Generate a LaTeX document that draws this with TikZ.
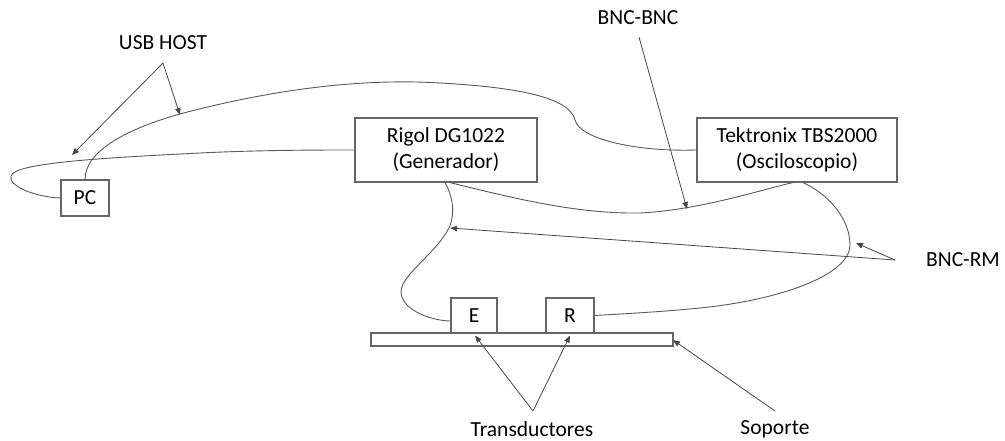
\documentclass[tikz,border=0pt]{standalone}
\usepackage{fontspec}
\setmainfont{Carlito}
\usetikzlibrary{arrows.meta}
\begin{document}
\begin{tikzpicture}[x=1pt,y=-1pt,
  box/.style={draw=black!60, line width=1.1pt, fill=white, inner sep=0pt, align=center,
    font=\fontsize{21.5}{26}\selectfont, text=black},
  lbl/.style={inner sep=0pt, font=\fontsize{21.5}{26}\selectfont, text=black},
  cable/.style={draw=black!65, line width=0.9pt},
  pointer/.style={draw=black!72, line width=0.8pt, -{Triangle[length=7pt,width=5.5pt]}}]
\useasboundingbox (0,0) rectangle (1005,441);

% boxes
\node[box, minimum width=48pt, minimum height=36pt] (PC) at (85,198) {PC};
\node[box, minimum width=182pt, minimum height=64pt] (rigol) at (446,150) {Rigol DG1022\\(Generador)};
\node[box, minimum width=200pt, minimum height=64pt] (tek) at (797,150) {Tektronix TBS2000\\(Osciloscopio)};
\node[box, minimum width=302pt, minimum height=13pt] (bar) at (522,339.5) {};
\node[box, minimum width=46pt, minimum height=35pt] (E) at (474,315.5) {E};
\node[box, minimum width=48pt, minimum height=35pt] (R) at (570,315.5) {R};

% labels
\node[lbl] (usb) at (163,43) {USB HOST};
\node[lbl] (bncbnc) at (638,18) {BNC-BNC};
\node[lbl] (bncrm) at (963,260) {BNC-RM};
\node[lbl] (trans) at (532,429) {Transductores};
\node[lbl] (sop) at (775,429) {Soporte};

% pointer origins
\coordinate (usbA) at (163,63);
\coordinate (bncA) at (639,37);
\coordinate (rmA) at (895,260);
\coordinate (trA) at (533,411);
\coordinate (soA) at (775,411);

% cables
\draw[cable] (PC.west) .. controls (35,197) and (8,186) .. (11,176)
  .. controls (14,163) and (100,158) .. (200,153)
  .. controls (260,150) and (320,150) .. (rigol.west);
\draw[cable] (PC.north) .. controls (85,150) and (130,128) .. (180,114)
  .. controls (270,90) and (360,78) .. (440,83)
  .. controls (530,88) and (570,100) .. (575,120)
  .. controls (580,140) and (640,152) .. (tek.west);
\draw[cable] ([xshift=4pt]rigol.south) .. controls (520,200) and (580,214) .. (640,213)
  .. controls (700,210) and (760,190) .. ([xshift=-4pt]tek.south);
\draw[cable] ([xshift=-1pt]rigol.south) .. controls (452,195) and (456,212) .. (449,228)
  .. controls (435,255) and (400,275) .. (401,293)
  .. controls (403,312) and (435,321) .. ([yshift=-5.5pt]E.west);
\draw[cable] ([xshift=6pt]tek.south) .. controls (830,195) and (850,220) .. (850,245)
  .. controls (850,275) and (780,300) .. (700,308)
  .. controls (660,312) and (620,314) .. (R.east);

% pointers
\draw[pointer] (usbA) -- (72,155);
\draw[pointer] (usbA) -- (180,115);
\draw[pointer] (bncA) -- (687,209);
\draw[pointer] (rmA) -- (450,228);
\draw[pointer] (rmA) -- (856,243);
\draw[pointer] (trA) -- ([xshift=1pt,yshift=-2pt]E.south);
\draw[pointer] (trA) -- ([yshift=-2pt]R.south);
\draw[pointer] (soA) -- (673,340);
\end{tikzpicture}
\end{document}
